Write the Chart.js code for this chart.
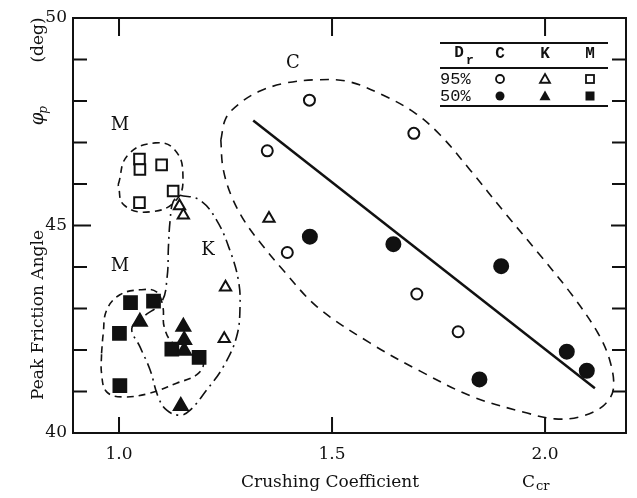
<!DOCTYPE html>
<html>
<head>
<meta charset="utf-8">
<script src="https://cdn.jsdelivr.net/npm/chart.js@4/dist/chart.umd.min.js"></script>
<style>
  html, body { margin: 0; padding: 0; background: #fff; }
  #wrap { width: 637px; height: 498px; }
</style>
</head>
<body>
<div id="wrap"><canvas id="chart" width="637" height="498"></canvas></div>
<script>
// Crushing coefficient (x) vs. peak friction angle (y), by sand and relative density
const c95Cr  = [1.447, 1.692, 1.348, 1.395, 1.699, 1.796];
const c95Phi = [48.02, 47.22, 46.80, 44.35, 43.35, 42.44];
const c50Cr  = [1.448, 1.644, 1.897, 2.051, 2.098, 1.846];
const c50Phi = [44.73, 44.55, 44.02, 41.96, 41.50, 41.29];
const k95Cr  = [1.142, 1.151, 1.250, 1.247, 1.352];
const k95Phi = [45.47, 45.25, 43.51, 42.27, 45.17];
const k50Cr  = [1.049, 1.151, 1.153, 1.153, 1.145];
const k50Phi = [42.68, 42.56, 42.24, 41.98, 40.65];
const m95Cr  = [1.048, 1.049, 1.100, 1.048, 1.127];
const m95Phi = [46.60, 46.35, 46.46, 45.55, 45.83];
const m50Cr  = [1.027, 1.081, 1.001, 1.124, 1.188, 1.002];
const m50Phi = [43.14, 43.18, 42.40, 42.02, 41.82, 41.14];

// trend line for sand C
const trendCr  = [1.315, 2.117];
const trendPhi = [47.53, 41.08];

// enclosing outlines for each group
const outlineC = [
  [1.239, 47.06], [1.251, 47.59], [1.284, 47.95], [1.331, 48.24], [1.390, 48.43],
  [1.460, 48.51], [1.538, 48.47], [1.624, 48.12], [1.695, 47.71], [1.754, 47.18],
  [1.824, 46.34], [1.906, 45.30], [1.988, 44.29], [2.063, 43.33], [2.124, 42.41],
  [2.153, 41.71], [2.160, 41.04], [2.136, 40.65], [2.082, 40.39], [2.023, 40.34],
  [1.958, 40.48], [1.831, 40.87], [1.707, 41.49], [1.589, 42.17], [1.465, 43.04],
  [1.383, 43.95], [1.336, 44.53], [1.296, 45.08], [1.263, 45.73], [1.244, 46.39]
];
const outlineM95 = [
  [0.998, 45.98], [1.021, 46.70], [1.085, 46.99], [1.131, 46.82],
  [1.150, 46.22], [1.134, 45.61], [1.073, 45.33], [1.012, 45.49]
];
const outlineK = [
  [1.143, 45.73], [1.190, 45.61], [1.229, 45.13], [1.260, 44.41], [1.280, 43.69],
  [1.284, 43.04], [1.276, 42.32], [1.245, 41.60], [1.206, 41.04], [1.167, 40.55],
  [1.143, 40.43], [1.112, 40.55], [1.092, 40.87], [1.073, 41.52], [1.049, 42.08],
  [1.030, 42.52], [1.057, 42.80], [1.100, 43.16], [1.113, 43.77], [1.116, 44.49],
  [1.120, 45.13], [1.127, 45.57]
];
const outlineM50 = [
  [0.959, 41.92], [0.963, 42.40], [0.971, 42.96], [1.002, 43.33], [1.049, 43.45],
  [1.088, 43.40], [1.103, 43.04], [1.106, 42.56], [1.127, 42.16], [1.174, 41.92],
  [1.198, 41.68], [1.182, 41.40], [1.135, 41.20], [1.073, 40.96], [1.010, 40.87],
  [0.971, 40.99], [0.959, 41.44]
];

const groupLabels = ['C', 'M', 'K', 'M'];
const groupLabelCr  = [1.408, 1.002, 1.209, 1.002];
const groupLabelPhi = [48.91, 47.42, 44.41, 44.01];

const xTickValues = [1.0, 1.5, 2.0];
const yTickValues = [40, 45, 50];
const yMinorTicks = [41, 42, 43, 44, 46, 47, 48, 49];

const INK = '#111';
const SERIF = '"DejaVu Serif", "Liberation Serif", serif';

function pts(xs, ys) { return xs.map((v, i) => ({ x: v, y: ys[i] })); }
function closed(list) { return list.concat([list[0]]).map(p => ({ x: p[0], y: p[1] })); }

function markers(label, xs, ys, style, radius, filled) {
  return {
    label, data: pts(xs, ys), order: 0,
    pointStyle: style, pointRadius: radius, pointHoverRadius: radius,
    pointBorderWidth: 2, borderColor: INK,
    pointBackgroundColor: filled ? INK : '#fff', backgroundColor: filled ? INK : '#fff'
  };
}

function outline(label, list, dash, tension) {
  return {
    label, data: closed(list), order: 2, showLine: true, tension,
    borderColor: INK, borderWidth: 1.6, borderDash: dash,
    pointRadius: 0, fill: false
  };
}

// frame, inward ticks, titles, group letters and the key table
const decorations = {
  id: 'decorations',
  afterDraw(chart) {
    const { ctx, chartArea: a, scales: { x, y } } = chart;
    ctx.save();
    ctx.strokeStyle = INK;
    ctx.fillStyle = INK;
    ctx.lineWidth = 2;
    ctx.strokeRect(a.left, a.top, a.right - a.left, a.bottom - a.top);

    ctx.beginPath();
    xTickValues.forEach(v => {
      const px = x.getPixelForValue(v);
      ctx.moveTo(px, a.bottom); ctx.lineTo(px, a.bottom - 16);
      ctx.moveTo(px, a.top); ctx.lineTo(px, a.top + 18);
    });
    yMinorTicks.forEach(v => {
      const py = y.getPixelForValue(v);
      ctx.moveTo(a.left, py); ctx.lineTo(a.left + 14, py);
      ctx.moveTo(a.right, py); ctx.lineTo(a.right - 14, py);
    });
    const mid = y.getPixelForValue(45);
    ctx.moveTo(a.left, mid); ctx.lineTo(a.left + 18, mid);
    ctx.moveTo(a.right, mid); ctx.lineTo(a.right - 15, mid);
    ctx.stroke();

    // group letters
    ctx.font = '18px ' + SERIF;
    ctx.textAlign = 'center';
    ctx.textBaseline = 'middle';
    groupLabels.forEach((t, i) => {
      ctx.fillText(t, x.getPixelForValue(groupLabelCr[i]), y.getPixelForValue(groupLabelPhi[i]));
    });

    // x title
    ctx.font = '17px ' + SERIF;
    ctx.textAlign = 'left';
    ctx.textBaseline = 'alphabetic';
    ctx.fillText('Crushing Coefficient', 241, 487);
    ctx.fillText('C', 522, 487);
    ctx.font = '13px ' + SERIF;
    ctx.fillText('cr', 536, 490);

    // y title
    ctx.save();
    ctx.translate(43, 0);
    ctx.rotate(-Math.PI / 2);
    ctx.font = '17px ' + SERIF;
    ctx.textAlign = 'center';
    ctx.fillText('Peak Friction Angle', -315, 0);
    ctx.fillText('(deg)', -40, 0);
    ctx.font = 'italic 18px ' + SERIF;
    ctx.fillText('\u03c6', -119, 0);
    ctx.font = 'italic 12px ' + SERIF;
    ctx.fillText('p', -110, 4);
    ctx.restore();

    drawKey(ctx);
    ctx.restore();
  }
};

function drawKey(ctx) {
  const left = 440, right = 608;
  const cols = [500, 545, 590];
  ctx.lineWidth = 2;
  ctx.beginPath();
  ctx.moveTo(left, 43); ctx.lineTo(right, 43);
  ctx.moveTo(left, 68); ctx.lineTo(right, 68);
  ctx.moveTo(left, 106); ctx.lineTo(right, 106);
  ctx.stroke();

  ctx.font = 'bold 16px "Liberation Mono", "DejaVu Sans Mono", monospace';
  ctx.textAlign = 'center';
  ctx.textBaseline = 'middle';
  ctx.fillText('D', 459, 53);
  ctx.font = 'bold 13px "Liberation Mono", monospace';
  ctx.fillText('r', 470, 61);
  ctx.font = 'bold 16px "Liberation Mono", "DejaVu Sans Mono", monospace';
  ['C', 'K', 'M'].forEach((t, i) => ctx.fillText(t, cols[i], 54));
  ctx.textAlign = 'left';
  ctx.font = '17px "Liberation Mono", "DejaVu Sans Mono", monospace';
  ctx.fillText('95%', 440, 79);
  ctx.fillText('50%', 440, 96);

  [[79, false], [96, true]].forEach(([ry, filled]) => {
    ctx.lineWidth = 1.8;
    // circle
    ctx.beginPath();
    ctx.arc(cols[0], ry, filled ? 4.5 : 4, 0, Math.PI * 2);
    filled ? ctx.fill() : ctx.stroke();
    // triangle
    const s = filled ? 5.5 : 5;
    ctx.beginPath();
    ctx.moveTo(cols[1], ry - s);
    ctx.lineTo(cols[1] + s, ry + s * 0.75);
    ctx.lineTo(cols[1] - s, ry + s * 0.75);
    ctx.closePath();
    filled ? ctx.fill() : ctx.stroke();
    // square
    const q = filled ? 4.5 : 4;
    if (filled) ctx.fillRect(cols[2] - q, ry - q, 2 * q, 2 * q);
    else ctx.strokeRect(cols[2] - q, ry - q, 2 * q, 2 * q);
  });
}

new Chart(document.getElementById('chart'), {
  type: 'scatter',
  data: {
    datasets: [
      markers('C 95%', c95Cr, c95Phi, 'circle', 5.5, false),
      markers('C 50%', c50Cr, c50Phi, 'circle', 7, true),
      markers('K 95%', k95Cr, k95Phi, 'triangle', 6.5, false),
      markers('K 50%', k50Cr, k50Phi, 'triangle', 8, true),
      markers('M 95%', m95Cr, m95Phi, 'rect', 7.5, false),
      markers('M 50%', m50Cr, m50Phi, 'rect', 9, true),
      {
        label: 'C trend', data: pts(trendCr, trendPhi), order: 1, showLine: true,
        borderColor: INK, borderWidth: 2.5, pointRadius: 0
      },
      outline('C', outlineC, [9, 7], 0.35),
      outline('M 95%', outlineM95, [7, 5], 0.45),
      outline('K', outlineK, [11, 5, 2, 5], 0.4),
      outline('M 50%', outlineM50, [7, 5], 0.4)
    ]
  },
  options: {
    responsive: false,
    animation: false,
    layout: { padding: { left: 0, top: 18, right: 11, bottom: 0 } },
    plugins: { legend: { display: false }, tooltip: { enabled: false } },
    scales: {
      x: {
        type: 'linear', min: 0.892, max: 2.19,
        grid: { display: false, drawTicks: false },
        border: { display: false },
        afterBuildTicks: s => { s.ticks = xTickValues.map(v => ({ value: v })); },
        afterFit: s => { s.height = 65; },
        ticks: {
          padding: 11, color: INK, font: { family: SERIF, size: 17 },
          callback: v => v.toFixed(1)
        }
      },
      y: {
        type: 'linear', min: 40, max: 50,
        grid: { display: false, drawTicks: false },
        border: { display: false },
        afterBuildTicks: s => { s.ticks = yTickValues.map(v => ({ value: v })); },
        afterFit: s => { s.width = 73; },
        ticks: {
          padding: 6, color: INK, font: { family: SERIF, size: 17 },
          callback: v => String(v)
        }
      }
    }
  },
  plugins: [decorations]
});
</script>
</body>
</html>
